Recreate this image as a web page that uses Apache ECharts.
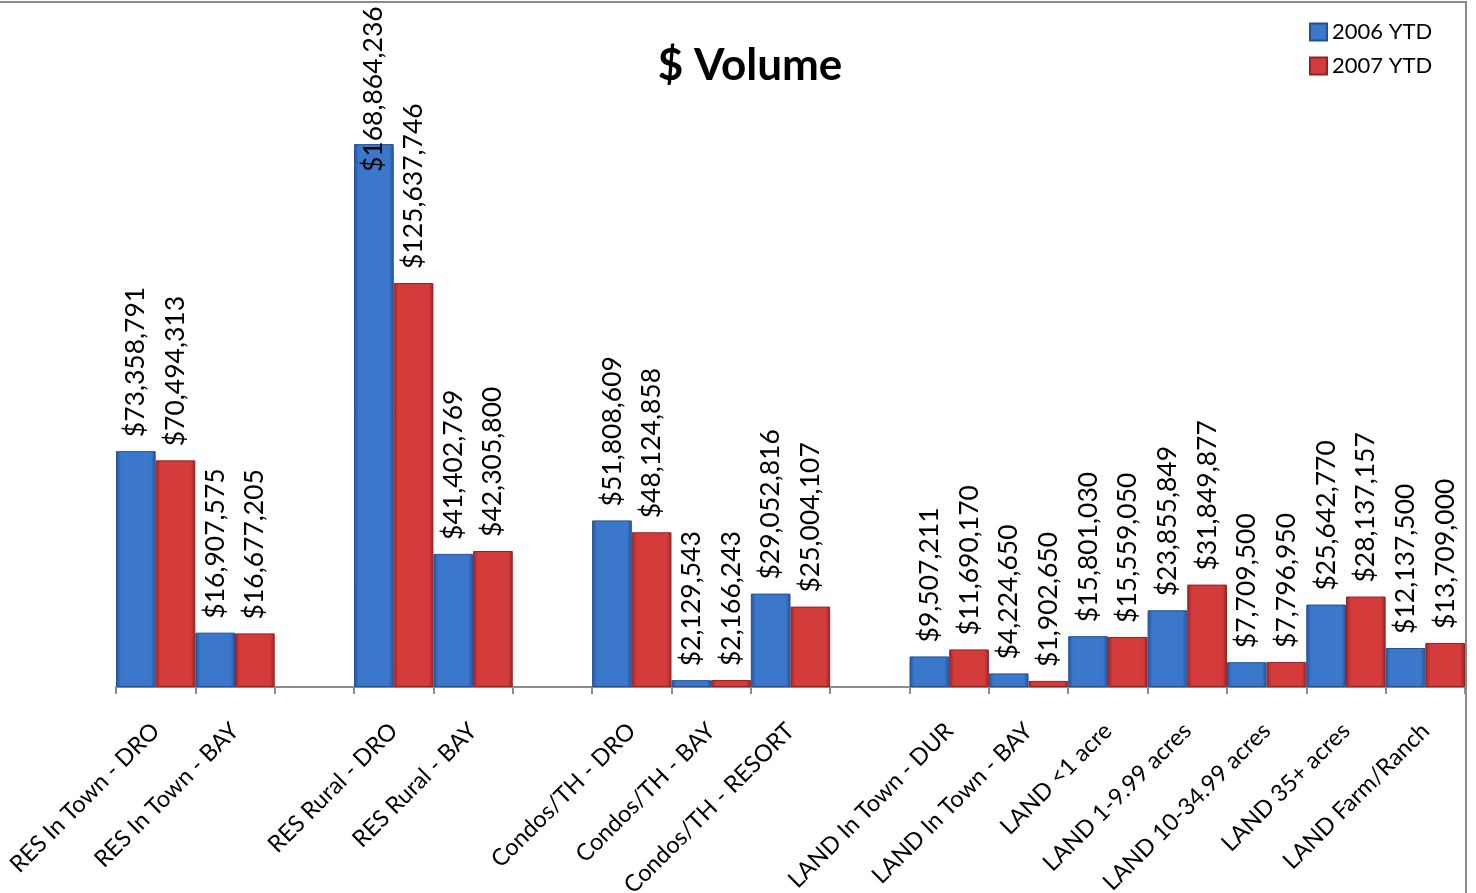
<!DOCTYPE html>
<html>
<head>
<meta charset="utf-8">
<title>$ Volume</title>
<script src="https://cdn.jsdelivr.net/npm/echarts@6/dist/echarts.min.js"></script>
<style>
    html, body { margin: 0; padding: 0; background: #fff; }
    #volumeChart { width: 1476px; height: 893px; }
</style>
</head>
<body>
<div id="volumeChart"></div>
<script>
// categories, '' = empty slot between groups
var categories = ['RES In Town - DRO', 'RES In Town - BAY', '',
    'RES Rural - DRO', 'RES Rural - BAY', '',
    'Condos/TH - DRO', 'Condos/TH - BAY', 'Condos/TH - RESORT', '',
    'LAND In Town - DUR', 'LAND In Town - BAY', 'LAND <1 acre', 'LAND 1-9.99 acres',
    'LAND 10-34.99 acres', 'LAND 35+ acres', 'LAND Farm/Ranch'];
var seriesNames = ['2006 YTD', '2007 YTD'];
var ytd2006 = [73358791, 16907575, '-', 168864236, 41402769, '-',
    51808609, 2129543, 29052816, '-',
    9507211, 4224650, 15801030, 23855849, 7709500, 25642770, 12137500];
var ytd2007 = [70494313, 16677205, '-', 125637746, 42305800, '-',
    48124858, 2166243, 25004107, '-',
    11690170, 1902650, 15559050, 31849877, 7796950, 28137157, 13709000];

(function () {
    var myChart = echarts.init(document.getElementById('volumeChart'));
    var fontName = 'Lato, "Open Sans", sans-serif';

    function money(v) {
        return '$' + String(v).replace(/\B(?=(\d{3})+(?!\d))/g, ',');
    }

    function barColor(edge, mid) {
        return new echarts.graphic.LinearGradient(0, 0, 1, 0, [
            { offset: 0, color: edge },
            { offset: 0.12, color: mid },
            { offset: 0.88, color: mid },
            { offset: 1, color: edge }
        ]);
    }

    // the tallest bar of the whole chart gets its label pushed inside, like the original
    var topValue = 0;
    ytd2006.concat(ytd2007).forEach(function (v) {
        if (v !== '-' && v > topValue) topValue = v;
    });

    function toItems(arr) {
        return arr.map(function (v) {
            if (v === topValue) {
                return { value: v, label: { position: 'insideTop', distance: 28 } };
            }
            return v;
        });
    }

    var labelCfg = {
        show: true,
        position: 'top',
        rotate: 90,
        align: 'left',
        verticalAlign: 'middle',
        distance: 14,
        color: '#000',
        fontFamily: fontName,
        fontSize: 26.5,
        formatter: function (p) { return money(p.value); }
    };

    var option = {
        backgroundColor: '#fff',
        animation: false,
        title: {
            text: '$ Volume',
            left: 745,
            top: 39,
            textAlign: 'center',
            textStyle: { fontFamily: fontName, fontSize: 44, fontWeight: 'bold', color: '#000' }
        },
        legend: {
            data: seriesNames,
            orient: 'vertical',
            left: 1304,
            top: 16,
            itemWidth: 17,
            itemHeight: 17,
            itemGap: 12,
            icon: 'rect',
            textStyle: { fontFamily: fontName, fontSize: 22, color: '#000' }
        },
        grid: {
            left: 116, right: 11, top: 44, bottom: 206,
            containLabel: false,
            outerBoundsMode: 'none'
        },
        xAxis: {
            type: 'category',
            data: categories,
            axisLine: { lineStyle: { color: '#8c8c8c', width: 2 } },
            axisTick: { show: true, length: 7, lineStyle: { color: '#8c8c8c', width: 2 } },
            axisLabel: {
                interval: 0,
                rotate: 45,
                margin: 40,
                color: '#000',
                fontFamily: fontName,
                fontSize: 23.5
            }
        },
        yAxis: {
            type: 'value',
            min: 0,
            max: 200000000,
            show: false,
            splitLine: { show: false }
        },
        graphic: [{
            type: 'rect',
            shape: { x: -10, y: 2, width: 1476, height: 900 },
            style: { fill: 'none', stroke: '#8a8a8a', lineWidth: 2 },
            silent: true
        }],
        series: [
            {
                name: seriesNames[0],
                type: 'bar',
                barGap: '0%',
                barCategoryGap: '0%',
                data: toItems(ytd2006),
                itemStyle: {
                    color: barColor('#23539c', '#3b77cb'),
                    borderColor: '#24508f',
                    borderWidth: 1
                },
                label: labelCfg
            },
            {
                name: seriesNames[1],
                type: 'bar',
                barGap: '0%',
                barCategoryGap: '0%',
                data: toItems(ytd2007),
                itemStyle: {
                    color: barColor('#9c2323', '#d43c3c'),
                    borderColor: '#8f2424',
                    borderWidth: 1
                },
                label: labelCfg
            }
        ]
    };

    myChart.setOption(option);
})();
</script>
</body>
</html>
